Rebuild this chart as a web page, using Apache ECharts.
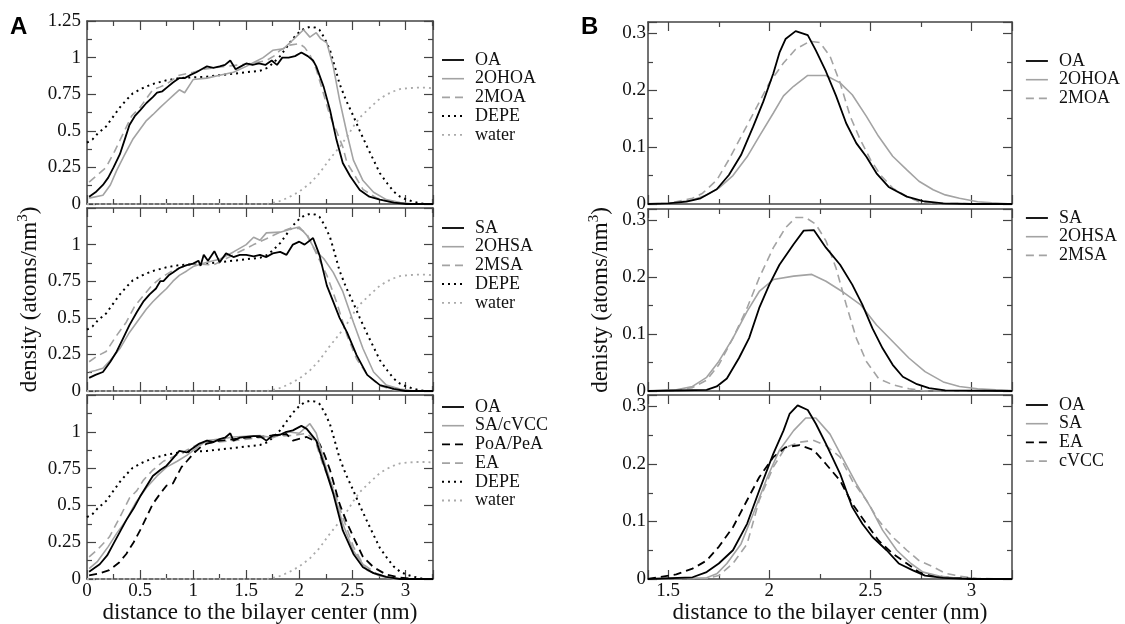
<!DOCTYPE html>
<html>
<head>
<meta charset="utf-8">
<script src="https://cdn.jsdelivr.net/npm/echarts@6/dist/echarts.min.js"></script>
<style>
  html, body { margin: 0; background: #fff; }
  #chart { width: 1125px; height: 624px; }
</style>
</head>
<body>
<div id="chart"></div>
<script>
// ---- data: [distance (nm), density (atoms/nm^3)] ----
// panel A, top
const aTopOA = [[0.02,0.05],[0.08,0.08],[0.15,0.13],[0.2,0.18],[0.25,0.25],[0.31,0.34],[0.36,0.45],[0.4,0.54],[0.45,0.6],[0.5,0.64],[0.56,0.69],[0.62,0.73],[0.66,0.76],[0.71,0.77],[0.76,0.8],[0.81,0.83],[0.87,0.86],[0.92,0.86],[0.97,0.88],[1.03,0.9],[1.08,0.92],[1.13,0.94],[1.19,0.93],[1.25,0.94],[1.3,0.95],[1.35,0.98],[1.4,0.92],[1.45,0.94],[1.5,0.96],[1.56,0.95],[1.62,0.96],[1.68,0.95],[1.74,0.98],[1.79,0.95],[1.84,1.0],[1.9,1.0],[1.96,1.01],[2.02,1.035],[2.08,1.01],[2.13,0.98],[2.16,0.94],[2.23,0.8],[2.29,0.64],[2.35,0.44],[2.41,0.28],[2.48,0.19],[2.57,0.095],[2.66,0.05],[2.76,0.03],[2.89,0.01],[3.01,0],[3.26,0]];
const aTop2OHOA = [[0.02,0.04],[0.15,0.06],[0.22,0.13],[0.28,0.23],[0.35,0.33],[0.43,0.44],[0.5,0.51],[0.56,0.57],[0.62,0.61],[0.69,0.66],[0.75,0.7],[0.81,0.74],[0.87,0.78],[0.92,0.76],[1.0,0.85],[1.13,0.86],[1.25,0.88],[1.38,0.9],[1.5,0.94],[1.58,0.97],[1.66,1.0],[1.75,1.05],[1.85,1.06],[1.94,1.12],[2.04,1.19],[2.1,1.14],[2.16,1.17],[2.2,1.13],[2.26,1.1],[2.32,0.94],[2.38,0.71],[2.45,0.48],[2.51,0.3],[2.6,0.16],[2.7,0.08],[2.82,0.03],[2.95,0.01],[3.08,0],[3.26,0]];
const aTop2MOA = [[0.02,0.15],[0.1,0.2],[0.18,0.25],[0.26,0.36],[0.34,0.48],[0.42,0.6],[0.5,0.66],[0.56,0.72],[0.62,0.78],[0.69,0.8],[0.75,0.82],[0.81,0.85],[0.87,0.88],[0.94,0.89],[1.0,0.9],[1.1,0.92],[1.19,0.93],[1.3,0.94],[1.44,0.95],[1.55,0.96],[1.69,0.98],[1.76,1.01],[1.82,1.05],[1.91,1.085],[2.0,1.095],[2.05,1.07],[2.1,1.02],[2.16,0.92],[2.23,0.75],[2.29,0.6],[2.35,0.5],[2.41,0.39],[2.45,0.28],[2.51,0.21],[2.6,0.1],[2.73,0.04],[2.88,0.01],[3.0,0],[3.26,0]];
// DEPE and water look the same in all three A plots
const depe = [[0,0.42],[0.05,0.44],[0.1,0.48],[0.18,0.53],[0.25,0.6],[0.31,0.66],[0.37,0.71],[0.43,0.755],[0.52,0.79],[0.62,0.82],[0.75,0.845],[0.87,0.86],[1.0,0.865],[1.13,0.87],[1.25,0.88],[1.38,0.89],[1.5,0.9],[1.63,0.91],[1.7,0.93],[1.75,0.96],[1.82,1.01],[1.88,1.07],[1.94,1.13],[2.0,1.175],[2.05,1.2],[2.1,1.21],[2.15,1.205],[2.19,1.19],[2.24,1.13],[2.29,1.05],[2.33,0.95],[2.38,0.82],[2.44,0.71],[2.51,0.6],[2.57,0.5],[2.64,0.39],[2.7,0.3],[2.76,0.21],[2.83,0.14],[2.89,0.085],[2.95,0.05],[3.01,0.03],[3.08,0.015],[3.14,0.005],[3.2,0],[3.26,0]];
const water = [[0,0],[1.7,0],[1.8,0.015],[1.9,0.045],[2.0,0.085],[2.1,0.14],[2.19,0.21],[2.28,0.3],[2.38,0.39],[2.45,0.46],[2.51,0.53],[2.57,0.59],[2.64,0.64],[2.7,0.68],[2.76,0.72],[2.83,0.75],[2.89,0.77],[2.95,0.785],[3.01,0.79],[3.1,0.795],[3.2,0.795],[3.26,0.79]];
// panel A, middle
const aMidSA = [[0.02,0.09],[0.08,0.11],[0.15,0.13],[0.22,0.2],[0.28,0.27],[0.34,0.36],[0.4,0.45],[0.47,0.54],[0.53,0.61],[0.59,0.66],[0.65,0.7],[0.69,0.75],[0.72,0.75],[0.77,0.79],[0.81,0.81],[0.87,0.84],[0.94,0.86],[1.0,0.87],[1.05,0.89],[1.07,0.855],[1.1,0.93],[1.14,0.89],[1.2,0.955],[1.25,0.88],[1.31,0.94],[1.38,0.915],[1.44,0.93],[1.5,0.93],[1.57,0.92],[1.63,0.93],[1.69,0.915],[1.75,0.94],[1.82,0.95],[1.88,0.93],[1.94,1.0],[2.0,1.02],[2.05,1.0],[2.13,1.045],[2.19,0.93],[2.26,0.72],[2.32,0.61],[2.38,0.5],[2.45,0.4],[2.54,0.245],[2.64,0.11],[2.76,0.04],[2.89,0.014],[3.0,0],[3.26,0]];
const aMid2OHSA = [[0.02,0.13],[0.08,0.14],[0.15,0.155],[0.22,0.21],[0.31,0.29],[0.4,0.4],[0.5,0.5],[0.56,0.56],[0.62,0.61],[0.69,0.66],[0.75,0.7],[0.81,0.75],[0.87,0.79],[0.94,0.82],[1.0,0.85],[1.13,0.88],[1.25,0.9],[1.38,0.95],[1.5,1.0],[1.57,1.05],[1.63,1.03],[1.69,1.08],[1.82,1.085],[1.94,1.11],[2.0,1.12],[2.07,1.065],[2.16,0.95],[2.23,0.905],[2.32,0.81],[2.41,0.68],[2.51,0.47],[2.6,0.29],[2.7,0.13],[2.82,0.04],[2.95,0.014],[3.08,0],[3.26,0]];
const aMid2MSA = [[0.02,0.2],[0.1,0.24],[0.18,0.27],[0.28,0.38],[0.37,0.47],[0.45,0.58],[0.53,0.65],[0.61,0.72],[0.69,0.77],[0.8,0.82],[0.87,0.84],[1.0,0.87],[1.19,0.86],[1.38,0.93],[1.57,1.0],[1.69,1.04],[1.82,1.085],[1.91,1.11],[2.0,1.11],[2.07,1.075],[2.16,0.94],[2.26,0.79],[2.35,0.61],[2.45,0.38],[2.54,0.22],[2.64,0.11],[2.76,0.036],[2.89,0.007],[3.0,0],[3.26,0]];
// panel A, bottom
const aBotOA = [[0.02,0.05],[0.12,0.1],[0.19,0.16],[0.25,0.24],[0.31,0.32],[0.37,0.4],[0.44,0.48],[0.5,0.56],[0.56,0.63],[0.62,0.7],[0.69,0.74],[0.75,0.77],[0.81,0.82],[0.87,0.87],[0.94,0.86],[1.0,0.89],[1.06,0.92],[1.13,0.94],[1.19,0.93],[1.25,0.95],[1.3,0.96],[1.35,0.99],[1.38,0.94],[1.44,0.96],[1.5,0.965],[1.57,0.97],[1.63,0.97],[1.69,0.94],[1.75,0.975],[1.82,0.98],[1.88,1.0],[1.94,1.01],[2.02,1.04],[2.07,1.02],[2.16,0.94],[2.24,0.76],[2.32,0.58],[2.41,0.33],[2.51,0.17],[2.6,0.08],[2.7,0.04],[2.82,0.014],[2.95,0],[3.26,0]];
const aBotSAcVCC = [[0.02,0.07],[0.1,0.12],[0.2,0.22],[0.28,0.31],[0.37,0.4],[0.46,0.52],[0.56,0.62],[0.66,0.7],[0.75,0.76],[0.85,0.8],[0.94,0.84],[1.03,0.89],[1.13,0.94],[1.25,0.95],[1.38,0.965],[1.5,0.97],[1.63,0.975],[1.75,0.96],[1.88,1.0],[2.0,0.99],[2.1,1.055],[2.16,0.99],[2.23,0.81],[2.32,0.6],[2.41,0.375],[2.51,0.19],[2.64,0.06],[2.76,0.02],[2.89,0],[3.26,0]];
const aBotPoAPeA = [[0.02,0.025],[0.1,0.035],[0.21,0.06],[0.3,0.11],[0.37,0.17],[0.44,0.25],[0.5,0.33],[0.56,0.42],[0.62,0.51],[0.69,0.58],[0.75,0.635],[0.81,0.65],[0.89,0.76],[0.94,0.8],[1.0,0.85],[1.06,0.89],[1.13,0.92],[1.25,0.94],[1.38,0.95],[1.5,0.96],[1.63,0.965],[1.75,0.975],[1.88,0.985],[1.94,0.94],[2.07,0.965],[2.19,0.92],[2.24,0.84],[2.29,0.74],[2.38,0.51],[2.45,0.38],[2.51,0.285],[2.6,0.15],[2.7,0.08],[2.82,0.03],[2.95,0.01],[3.08,0],[3.26,0]];
const aBotEA = [[0.02,0.15],[0.1,0.2],[0.21,0.285],[0.31,0.42],[0.4,0.55],[0.47,0.6],[0.53,0.67],[0.62,0.74],[0.72,0.8],[0.87,0.85],[1.06,0.92],[1.38,0.94],[1.69,0.965],[1.94,0.975],[2.07,0.99],[2.15,0.94],[2.23,0.76],[2.32,0.62],[2.41,0.42],[2.51,0.22],[2.6,0.1],[2.73,0.036],[2.89,0],[3.26,0]];
// panel B, top
const bTopOA = [[1.4,0],[1.5,0.001],[1.59,0.004],[1.66,0.01],[1.74,0.026],[1.8,0.051],[1.86,0.086],[1.92,0.136],[1.97,0.18],[2.02,0.23],[2.05,0.266],[2.08,0.29],[2.13,0.304],[2.19,0.297],[2.23,0.27],[2.28,0.233],[2.33,0.19],[2.38,0.142],[2.43,0.107],[2.48,0.083],[2.53,0.054],[2.59,0.03],[2.68,0.013],[2.76,0.005],[2.86,0.001],[3.0,0],[3.2,0]];
const bTop2OHOA = [[1.4,0],[1.5,0.001],[1.62,0.007],[1.69,0.016],[1.75,0.028],[1.82,0.05],[1.89,0.083],[1.95,0.119],[2.02,0.16],[2.07,0.19],[2.12,0.207],[2.19,0.226],[2.28,0.226],[2.35,0.213],[2.41,0.192],[2.48,0.154],[2.54,0.119],[2.61,0.084],[2.68,0.06],[2.74,0.04],[2.81,0.025],[2.87,0.016],[2.94,0.01],[3.03,0.004],[3.1,0.002],[3.2,0]];
const bTop2MOA = [[1.4,0],[1.5,0.001],[1.62,0.01],[1.67,0.019],[1.74,0.042],[1.8,0.078],[1.87,0.125],[1.94,0.172],[2.0,0.213],[2.07,0.248],[2.13,0.272],[2.2,0.286],[2.25,0.284],[2.3,0.26],[2.35,0.213],[2.4,0.154],[2.45,0.113],[2.5,0.078],[2.55,0.051],[2.61,0.028],[2.68,0.013],[2.74,0.004],[2.83,0.001],[3.2,0]];
// panel B, middle
const bMidSA = [[1.4,0],[1.69,0.002],[1.74,0.008],[1.79,0.022],[1.85,0.058],[1.9,0.093],[1.95,0.146],[2.0,0.187],[2.05,0.222],[2.12,0.258],[2.17,0.282],[2.22,0.283],[2.28,0.252],[2.35,0.222],[2.41,0.187],[2.46,0.152],[2.51,0.11],[2.56,0.075],[2.61,0.046],[2.66,0.025],[2.73,0.012],[2.79,0.005],[2.87,0.001],[3.2,0]];
const bMid2OHSA = [[1.4,0],[1.54,0.002],[1.62,0.008],[1.69,0.024],[1.75,0.052],[1.82,0.093],[1.89,0.14],[1.95,0.175],[2.02,0.196],[2.12,0.202],[2.21,0.205],[2.28,0.193],[2.36,0.175],[2.45,0.152],[2.53,0.116],[2.61,0.087],[2.69,0.058],[2.77,0.034],[2.86,0.016],[2.94,0.008],[3.03,0.004],[3.12,0.002],[3.2,0.001]];
const bMid2MSA = [[1.4,0],[1.54,0.001],[1.62,0.006],[1.69,0.019],[1.75,0.046],[1.82,0.093],[1.89,0.146],[1.95,0.199],[2.02,0.252],[2.08,0.287],[2.13,0.305],[2.18,0.305],[2.23,0.293],[2.28,0.264],[2.33,0.216],[2.38,0.152],[2.43,0.093],[2.48,0.052],[2.54,0.022],[2.61,0.011],[2.69,0.004],[2.77,0],[3.2,0]];
// panel B, bottom
const bBotOA = [[1.4,0],[1.62,0.003],[1.69,0.012],[1.75,0.027],[1.82,0.05],[1.89,0.096],[1.95,0.154],[2.02,0.218],[2.07,0.258],[2.1,0.287],[2.14,0.302],[2.19,0.294],[2.23,0.27],[2.28,0.235],[2.35,0.183],[2.41,0.125],[2.46,0.096],[2.51,0.073],[2.58,0.05],[2.64,0.027],[2.71,0.015],[2.77,0.006],[2.86,0.002],[3.0,0],[3.2,0]];
const bBotSA = [[1.4,0],[1.69,0.002],[1.74,0.009],[1.79,0.027],[1.86,0.061],[1.92,0.113],[1.99,0.177],[2.05,0.224],[2.12,0.258],[2.18,0.28],[2.23,0.28],[2.3,0.252],[2.36,0.212],[2.43,0.166],[2.5,0.125],[2.56,0.085],[2.63,0.05],[2.7,0.027],[2.76,0.012],[2.84,0.005],[2.94,0.001],[3.2,0]];
const bBotEA = [[1.4,0],[1.54,0.008],[1.62,0.018],[1.69,0.032],[1.75,0.056],[1.82,0.09],[1.89,0.137],[1.95,0.177],[2.02,0.212],[2.08,0.229],[2.15,0.233],[2.22,0.224],[2.28,0.2],[2.35,0.171],[2.41,0.131],[2.48,0.096],[2.54,0.067],[2.61,0.044],[2.68,0.027],[2.74,0.012],[2.81,0.006],[2.9,0.002],[3.03,0],[3.2,0]];
const bBotcVCC = [[1.4,0],[1.69,0.001],[1.75,0.006],[1.82,0.027],[1.89,0.061],[1.95,0.137],[2.02,0.195],[2.08,0.229],[2.15,0.238],[2.22,0.241],[2.28,0.232],[2.35,0.212],[2.41,0.171],[2.48,0.137],[2.54,0.102],[2.61,0.073],[2.68,0.05],[2.74,0.032],[2.81,0.021],[2.87,0.01],[2.94,0.005],[3.03,0.001],[3.2,0]];

// axis ranges
const aXRange = [0, 3.26];
const aYRange = [0, 1.25];
const bXRange = [1.4, 3.2];
const bYRange = [0, 0.32];

const SERIF = '"Liberation Serif", "Times New Roman", serif';
const INK = '#111';
const FRAME = '#444';
const XNAME = 'distance to the bilayer center (nm)';

// line looks
const BLACK = { color: '#000', width: 1.8, type: 'solid' };
const GRAY = { color: '#a3a3a3', width: 1.6, type: 'solid' };
const GRAY_DASH = { color: '#a3a3a3', width: 1.6, type: [8, 5] };
const BLACK_DASH = { color: '#000', width: 1.8, type: [8, 5] };
const BLACK_DOT = { color: '#000', width: 2, type: [2, 4] };
const GRAY_DOT = { color: '#aaa', width: 1.8, type: [2, 4] };

// grid boxes: panel A left column, panel B right column
const grids = [
  { left: 87, top: 21, width: 346, height: 183 },
  { left: 87, top: 208, width: 346, height: 183 },
  { left: 87, top: 395, width: 346, height: 184 },
  { left: 648, top: 22, width: 364, height: 182 },
  { left: 648, top: 209, width: 364, height: 182 },
  { left: 648, top: 395, width: 364, height: 184 }
];

const tickStyle = { color: FRAME, width: 1.2 };

function xAxisPair(g, range, step, bottomRow, isB) {
  const base = {
    type: 'value', gridIndex: g, min: range[0], max: range[1],
    axisLine: { show: true, onZero: false, lineStyle: { color: FRAME, width: 1.5 } },
    axisTick: { show: true, inside: true, length: 9, lineStyle: tickStyle },
    minorTick: { show: true, splitNumber: 2, length: 5, lineStyle: tickStyle },
    splitLine: { show: false },
    axisLabel: { show: false }
  };
  if (isB) { base.minInterval = step; base.maxInterval = step; } else { base.interval = step; }
  const bottom = Object.assign({}, base, { position: 'bottom' });
  if (bottomRow) {
    bottom.axisLabel = {
      show: true, margin: 3, fontFamily: SERIF, fontSize: 19, color: INK,
      showMinLabel: !isB, showMaxLabel: false
    };
    bottom.name = XNAME;
    bottom.nameLocation = 'middle';
    bottom.nameGap = 21;
    bottom.nameTextStyle = { fontFamily: SERIF, fontSize: 23, color: INK };
  }
  const top = Object.assign({}, base, { position: 'top' });
  return [bottom, top];
}

function yAxisPair(g, range, step, showTop, name, nameGap) {
  const base = {
    type: 'value', gridIndex: g, min: range[0], max: range[1], interval: step,
    axisLine: { show: true, onZero: false, lineStyle: { color: FRAME, width: 1.5 } },
    axisTick: { show: true, inside: true, length: 9, lineStyle: tickStyle },
    minorTick: { show: true, splitNumber: 2, length: 5, lineStyle: tickStyle },
    splitLine: { show: false },
    axisLabel: { show: false }
  };
  const left = Object.assign({}, base, {
    position: 'left',
    axisLabel: {
      show: true, margin: g < 3 ? 6 : 2, fontFamily: SERIF, fontSize: 19, color: INK,
      showMinLabel: true, showMaxLabel: showTop
    }
  });
  if (name) {
    left.name = '{a|' + name + '}{s|3}{a|)}';
    left.nameLocation = 'middle';
    left.nameGap = nameGap;
    left.nameTextStyle = {
      fontFamily: SERIF,
      rich: {
        a: { fontFamily: SERIF, fontSize: 23, color: INK },
        s: { fontFamily: SERIF, fontSize: 15, color: INK, verticalAlign: 'top', padding: [0, 0, 12, 0] }
      }
    };
  }
  const right = Object.assign({}, base, { position: 'right' });
  return [left, right];
}

const xAxes = [].concat(
  xAxisPair(0, aXRange, 0.5, false, false),
  xAxisPair(1, aXRange, 0.5, false, false),
  xAxisPair(2, aXRange, 0.5, true, false),
  xAxisPair(3, bXRange, 0.5, false, true),
  xAxisPair(4, bXRange, 0.5, false, true),
  xAxisPair(5, bXRange, 0.5, true, true)
);
const yAxes = [].concat(
  yAxisPair(0, aYRange, 0.25, true),
  yAxisPair(1, aYRange, 0.25, false, 'density (atoms/nm', 44),
  yAxisPair(2, aYRange, 0.25, false),
  yAxisPair(3, bYRange, 0.1, false),
  yAxisPair(4, bYRange, 0.1, false, 'denisty (atoms/nm', 34),
  yAxisPair(5, bYRange, 0.1, false)
);

// [name, data, look] per subplot, in legend order
const panels = [
  [['OA', aTopOA, BLACK], ['2OHOA', aTop2OHOA, GRAY], ['2MOA', aTop2MOA, GRAY_DASH], ['DEPE', depe, BLACK_DOT], ['water', water, GRAY_DOT]],
  [['SA', aMidSA, BLACK], ['2OHSA', aMid2OHSA, GRAY], ['2MSA', aMid2MSA, GRAY_DASH], ['DEPE', depe, BLACK_DOT], ['water', water, GRAY_DOT]],
  [['OA', aBotOA, BLACK], ['SA/cVCC', aBotSAcVCC, GRAY], ['PoA/PeA', aBotPoAPeA, BLACK_DASH], ['EA', aBotEA, GRAY_DASH], ['DEPE', depe, BLACK_DOT], ['water', water, GRAY_DOT]],
  [['OA', bTopOA, BLACK], ['2OHOA', bTop2OHOA, GRAY], ['2MOA', bTop2MOA, GRAY_DASH]],
  [['SA', bMidSA, BLACK], ['2OHSA', bMid2OHSA, GRAY], ['2MSA', bMid2MSA, GRAY_DASH]],
  [['OA', bBotOA, BLACK], ['SA', bBotSA, GRAY], ['EA', bBotEA, BLACK_DASH], ['cVCC', bBotcVCC, GRAY_DASH]]
];
const legendSpots = [[441, 51], [441, 219], [441, 398], [1025, 52], [1025, 209], [1025, 396]];

const series = [];
const legends = [];
panels.forEach((items, g) => {
  items.forEach(([name, data, look], k) => {
    series.push({
      type: 'line', name, data,
      xAxisIndex: 2 * g, yAxisIndex: 2 * g,
      symbol: 'none', silent: true,
      lineStyle: Object.assign({}, look),
      z: 10 - k
    });
  });
  legends.push({
    orient: 'vertical', left: legendSpots[g][0], top: legendSpots[g][1],
    padding: 0, itemGap: 0.7, itemWidth: 22, itemHeight: 14,
    selectedMode: false,
    textStyle: { fontFamily: SERIF, fontSize: 18, color: INK, padding: [0, 0, 0, 6] },
    data: items.map(([name, , look]) => ({ name, lineStyle: Object.assign({}, look), itemStyle: { opacity: 0 } }))
  });
});

const chart = echarts.init(document.getElementById('chart'), null, { renderer: 'canvas' });
chart.setOption({
  animation: false,
  backgroundColor: '#fff',
  textStyle: { fontFamily: SERIF },
  title: [
    { text: 'A', left: 10, top: 15, padding: 0, textStyle: { fontFamily: 'Liberation Sans', fontWeight: 'bold', fontSize: 24, color: '#000' } },
    { text: 'B', left: 581, top: 15, padding: 0, textStyle: { fontFamily: 'Liberation Sans', fontWeight: 'bold', fontSize: 24, color: '#000' } }
  ],
  grid: grids.map(b => Object.assign({ containLabel: false, outerBoundsMode: 'none' }, b)),
  xAxis: xAxes,
  yAxis: yAxes,
  legend: legends,
  series
});
</script>
</body>
</html>
